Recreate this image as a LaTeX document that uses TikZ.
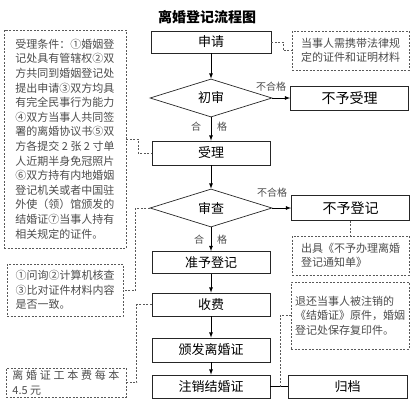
\documentclass[tikz,border=0pt]{standalone}
\usepackage{fontspec}
\newfontfamily\cjk{Noto Sans CJK SC}
\usetikzlibrary{arrows,shapes.geometric}

\begin{document}
\begin{tikzpicture}[x=1pt,y=-1pt,>=latex]
\tikzstyle{stage}=[rectangle,draw=black!85,line width=0.8pt,inner sep=0pt,minimum width=118pt,minimum height=23pt,font=\cjk\fontsize{13}{15}\selectfont]
\tikzstyle{check}=[diamond,draw=black!85,line width=0.7pt,inner sep=0pt,minimum width=122pt,minimum height=38pt,font=\cjk\fontsize{13}{15}\selectfont]
\tikzstyle{memo}=[rectangle,draw=black!65,dash pattern=on 2pt off 1.5pt,line width=0.6pt,inner sep=0pt,text=black!70,align=left,font=\cjk\fontsize{11}{14.6}\selectfont]
\tikzstyle{link}=[draw=black!65,dash pattern=on 2pt off 1.5pt,line width=0.6pt]
\tikzstyle{tag}=[inner sep=0pt,text=black!70,font=\cjk\fontsize{10}{12}\selectfont]

\useasboundingbox (0,0) rectangle (411,400);

\node at (207,17) [font=\cjk\fontsize{14}{16}\selectfont] (title) {\bfseries 离婚登记流程图};

% main column
\node at (211,42) [stage,minimum width=120pt,minimum height=22pt] (shenqing) {申请};
\node at (211,98) [check] (chushen) {初审};
\node at (349.5,98) [stage,minimum height=24pt,font=\cjk\fontsize{14}{16}\selectfont] (buyushouli) {不予受理};
\node at (211,153) [stage,minimum height=24pt] (shouli) {受理};
\node at (211,208) [check] (shencha) {审查};
\node at (350.5,208) [stage,minimum height=25pt,font=\cjk\fontsize{14}{16}\selectfont] (buyudengji) {不予登记};
\node at (211,262.5) [stage,minimum height=22pt] (zhunyu) {准予登记};
\node at (211,304.5) [stage] (shoufei) {收费};
\node at (211,350) [stage,minimum height=24pt] (banfa) {颁发离婚证};
\node at (211,386.5) [stage] (zhuxiao) {注销结婚证};
\node at (347.5,386.5) [stage,minimum width=119pt] (guidang) {归档};

% notes
\node at (65,139) [memo,minimum width=122pt,minimum height=218pt] (tiaojian) {受理条件：①婚姻登\\记处具有管辖权②双\\方共同到婚姻登记处\\提出申请③双方均具\\有完全民事行为能力\\④双方当事人共同签\\署的离婚协议书⑤双\\方各提交 2 张 2 寸单\\人近期半身免冠照片\\⑥双方持有内地婚姻\\登记机关或者中国驻\\外使（领）馆颁发的\\结婚证⑦当事人持有\\相关规定的证件。};
\node at (350.5,50.5) [memo,minimum width=117pt,minimum height=39pt] (xiedai) {当事人需携带法律规\\定的证件和证明材料};
\node at (350.5,255.5) [memo,minimum width=117pt,minimum height=39pt] (tongzhi) {出具《不予办理离婚\\登记通知单》};
\node at (65,290) [memo,minimum width=116pt,minimum height=52pt] (hecha) {①问询②计算机核查\\③比对证件材料内容\\是否一致。};
\node at (66,382.5) [memo,minimum width=120pt,minimum height=29pt] (gongben) {\makebox[107pt][s]{离 婚 证 工 本 费 每 本}\\4.5 元};
\node at (350,315.5) [memo,minimum width=118pt,minimum height=67pt] (tuihuan) {退还当事人被注销的\\《结婚证》原件，婚姻\\登记处保存复印件。};

% arrows
\draw[->,line width=0.8pt] (shenqing) -- (chushen);
\draw[->,line width=0.8pt] (chushen) -- (shouli);
\draw[->,line width=0.8pt] (chushen) -- (buyushouli);
\draw[->,line width=0.8pt] (shouli) -- (shencha);
\draw[->,line width=0.8pt] (shencha) -- (zhunyu);
\draw[->,line width=0.8pt] (shencha) -- (buyudengji);
\draw[->,line width=0.8pt] (zhunyu) -- (shoufei);
\draw[->,line width=0.8pt] (shoufei) -- (banfa);
\draw[->,line width=0.8pt] (banfa) -- (zhuxiao);
\draw[line width=0.8pt] (zhuxiao) -- coordinate[pos=0.55] (fork) (guidang);

\node at (271,87) [tag] (ng1) {不合格};
\node at (196,127) [tag] (he1) {合};
\node at (222,127) [tag] (ge1) {格};
\node at (272,193) [tag] (ng2) {不合格};
\node at (199,240) [tag] (he2) {合};
\node at (222,240) [tag] (ge2) {格};

% dashed links
\draw[link] (shenqing.east) -- ++(12,0) |- (xiedai.west);
\draw[link] (tiaojian.east) -- ++(12,0) |- (shouli.west);
\draw[link] (shencha.west) -- ++(-14,0) |- (hecha.east);
\draw[link] (shoufei.west) -- ++(-15,0) |- (gongben.east);
\draw[link] (buyudengji) -- (tongzhi);
\draw[link] (fork) |- (tuihuan.west);

\end{tikzpicture}
\end{document}
